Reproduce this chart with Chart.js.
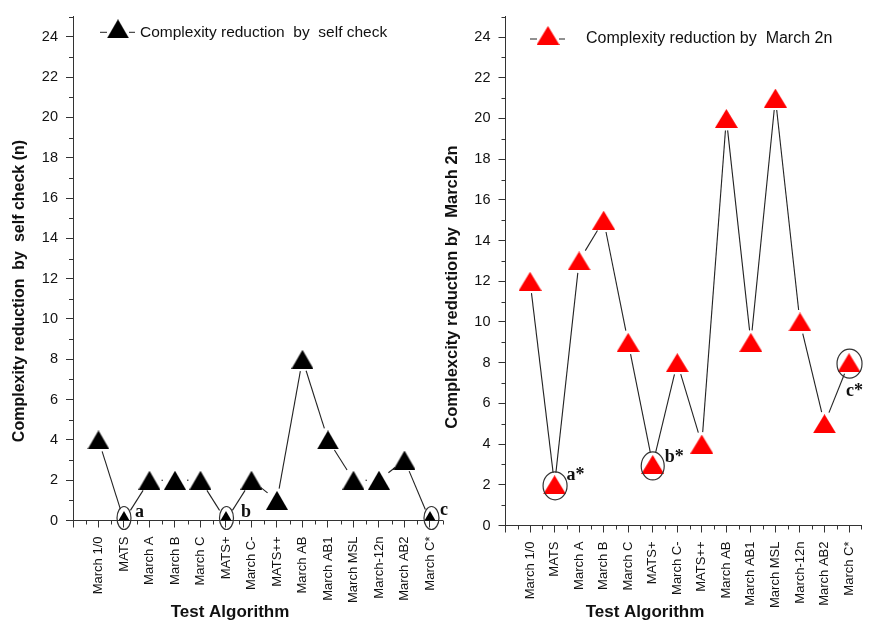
<!DOCTYPE html>
<html>
<head>
<meta charset="utf-8">
<script src="https://cdn.jsdelivr.net/npm/chart.js@4.4.1/dist/chart.umd.min.js"></script>
<style>
  body { margin: 0; background: #fff; }
  #wrap { position: relative; width: 874px; height: 623px; overflow: hidden; }
  #leftChart { position: absolute; left: 0; top: 0; }
  #rightChart { position: absolute; left: 430px; top: 0; }
</style>
</head>
<body>
<div id="wrap">
  <canvas id="leftChart" width="455" height="623"></canvas>
  <canvas id="rightChart" width="444" height="623"></canvas>
</div>
<script>
// data
const algorithms = ['March 1/0', 'MATS', 'March A', 'March B', 'March C', 'MATS+', 'March C-',
  'MATS++', 'March AB', 'March AB1', 'March MSL', 'March-12n', 'March AB2', 'March C*'];
const selfCheck = [4, 0, 2, 2, 2, 0, 2, 1, 8, 4, 2, 2, 3, 0];
const march2n = [12, 2, 13, 15, 9, 3, 8, 4, 20, 9, 21, 10, 5, 8];
const selfCheckMarked = [1, 5, 13];
const selfCheckMarkText = ['a', 'b', 'c'];
const march2nMarked = [1, 5, 13];
const march2nMarkText = ['a*', 'b*', 'c*'];
const yMax = 25;

const SANS = '"Liberation Sans", Arial, sans-serif';
const SERIF = '"Liberation Serif", "Times New Roman", serif';

function triangleImage(color, w, h) {
  const c = document.createElement('canvas');
  c.width = w;
  c.height = h;
  const g = c.getContext('2d');
  g.fillStyle = color;
  g.beginPath();
  g.moveTo(w / 2, 0);
  g.lineTo(w, h);
  g.lineTo(0, h);
  g.closePath();
  g.fill();
  return c;
}

// lines between points that stop short of the markers (Origin "gap" style)
const gapLines = {
  id: 'gapLines',
  beforeDatasetsDraw(chart) {
    const gap = chart.options.plugins.gapLines.gap;
    const pts = chart.getDatasetMeta(0).data;
    const ctx = chart.ctx;
    ctx.save();
    ctx.strokeStyle = '#222';
    ctx.lineWidth = 1.1;
    for (let i = 0; i < pts.length - 1; i++) {
      const a = pts[i], b = pts[i + 1];
      const dx = b.x - a.x, dy = b.y - a.y;
      const len = Math.sqrt(dx * dx + dy * dy);
      if (len <= gap * 2) continue;
      const ux = dx / len, uy = dy / len;
      ctx.beginPath();
      ctx.moveTo(a.x + ux * gap, a.y + uy * gap);
      ctx.lineTo(b.x - ux * gap, b.y - uy * gap);
      ctx.stroke();
    }
    ctx.restore();
  }
};

// minor ticks, titles, legend and circled marks
const extras = {
  id: 'extras',
  afterDraw(chart) {
    const o = chart.options.plugins.extras;
    const ctx = chart.ctx;
    const xs = chart.scales.x, ys = chart.scales.y;
    const area = chart.chartArea;
    ctx.save();
    ctx.strokeStyle = '#333';
    ctx.lineWidth = 1;
    ctx.beginPath();
    for (let v = 1; v <= yMax; v += 2) {
      const py = Math.round(ys.getPixelForValue(v)) + 0.5;
      ctx.moveTo(area.left - 4, py);
      ctx.lineTo(area.left, py);
    }
    for (let v = -0.5; v <= algorithms.length - 0.5; v += 1) {
      const px = Math.round(xs.getPixelForValue(v)) + 0.5;
      ctx.moveTo(px, area.bottom);
      ctx.lineTo(px, area.bottom + 4);
    }
    ctx.stroke();

    // axis titles
    ctx.fillStyle = '#111';
    ctx.textAlign = 'center';
    ctx.textBaseline = 'middle';
    ctx.font = 'bold ' + o.yTitle.size + 'px ' + SANS;
    ctx.save();
    ctx.translate(o.yTitle.x, o.yTitle.y);
    ctx.rotate(-Math.PI / 2);
    ctx.fillText(o.yTitle.text, 0, 0);
    ctx.restore();
    ctx.font = 'bold 17px ' + SANS;
    ctx.fillText('Test Algorithm', o.xTitle.x, o.xTitle.y);

    // legend
    const lg = o.legend;
    ctx.strokeStyle = '#222';
    ctx.beginPath();
    ctx.moveTo(lg.x, lg.y);
    ctx.lineTo(lg.x + 7, lg.y);
    ctx.moveTo(lg.x + 29, lg.y);
    ctx.lineTo(lg.x + 35, lg.y);
    ctx.stroke();
    const img = chart.data.datasets[0].pointStyle;
    ctx.drawImage(img, lg.x + 18 - img.width / 2, lg.y - 3.5 - img.height / 2);
    ctx.textAlign = 'left';
    ctx.font = lg.size + 'px ' + SANS;
    ctx.fillText(chart.data.datasets[0].label, lg.textX, lg.y);

    // circled points with letters
    const values = chart.data.datasets[0].data;
    ctx.strokeStyle = '#333';
    ctx.lineWidth = 1.2;
    ctx.font = 'bold 18px ' + SERIF;
    ctx.textBaseline = 'alphabetic';
    o.marks.idx.forEach(function (idx, k) {
      const st = o.marks.style[k];
      const px = xs.getPixelForValue(values[idx].x);
      const py = ys.getPixelForValue(values[idx].y);
      ctx.beginPath();
      ctx.ellipse(px + st.ex, py + st.ey, st.rx, st.ry, 0, 0, Math.PI * 2);
      ctx.stroke();
      ctx.fillText(o.marks.text[k], px + st.tx, py + st.ty);
    });
    ctx.restore();
  }
};

function makeChart(id, label, values, color, layout, extraOpts) {
  const ctx = document.getElementById(id).getContext('2d');
  const data = {
    datasets: [{
      label: label,
      data: values.map(function (v, i) { return { x: i, y: v }; }),
      pointStyle: triangleImage(color, layout.triW, layout.triH),
      pointRadius: 10,
      pointHoverRadius: 10,
      clip: { left: false, top: false, right: false, bottom: 0 }
    }]
  };
  return new Chart(ctx, {
    type: 'scatter',
    data: data,
    plugins: [gapLines, extras],
    options: {
      responsive: false,
      animation: false,
      devicePixelRatio: 1,
      layout: { padding: { top: layout.top, right: layout.right, left: 0, bottom: 0 } },
      plugins: {
        legend: { display: false },
        tooltip: { enabled: false },
        gapLines: { gap: 12 },
        extras: extraOpts
      },
      scales: {
        x: {
          type: 'linear',
          min: -1,
          max: algorithms.length - 0.5,
          afterFit: function (s) { s.height = layout.xAxisH; },
          grid: { drawOnChartArea: false, drawTicks: true, tickLength: 7, color: '#333' },
          border: { display: true, color: '#333', width: 1 },
          ticks: {
            stepSize: 1,
            includeBounds: false,
            autoSkip: false,
            minRotation: 90,
            maxRotation: 90,
            padding: 9,
            color: '#111',
            font: { family: SANS, size: 13 },
            callback: function (v) {
              return Number.isInteger(v) && v >= 0 && v < algorithms.length ? algorithms[v] : '';
            }
          }
        },
        y: {
          min: 0,
          max: yMax,
          afterFit: function (s) { s.width = layout.yAxisW; },
          grid: { drawOnChartArea: false, drawTicks: true, tickLength: 7, color: '#333' },
          border: { display: true, color: '#333', width: 1 },
          ticks: {
            stepSize: 2,
            includeBounds: false,
            padding: 8,
            color: '#111',
            font: { family: SANS, size: 14.5 }
          }
        }
      }
    }
  });
}

makeChart('leftChart', 'Complexity reduction  by  self check', selfCheck, '#000000',
  { triW: 22, triH: 19, top: 6.7, right: 12, xAxisH: 102.5, yAxisW: 73 },
  {
    yTitle: { text: 'Complexity reduction  by  self check (n)', x: 20, y: 291, size: 16 },
    xTitle: { x: 230, y: 612 },
    legend: { x: 100, y: 32.3, textX: 140, size: 15.5 },
    marks: {
      idx: selfCheckMarked,
      text: selfCheckMarkText,
      style: [
        { ex: 0, ey: -2.5, rx: 7, ry: 11.5, tx: 11, ty: -3.5 },
        { ex: 0.5, ey: -2.5, rx: 7, ry: 11.5, tx: 15, ty: -3.5 },
        { ex: 1.5, ey: -2.5, rx: 7.5, ry: 11.5, tx: 10, ty: -5.5 }
      ]
    }
  });

makeChart('rightChart', 'Complexity reduction by  March 2n', march2n, '#ff0000',
  { triW: 23, triH: 19, top: 11.75, right: 6, xAxisH: 97.5, yAxisW: 75.5 },
  {
    yTitle: { text: 'Complexcity reduction by  March 2n', x: 22, y: 287, size: 16.5 },
    xTitle: { x: 215, y: 612 },
    legend: { x: 100, y: 39, textX: 156, size: 16 },
    marks: {
      idx: march2nMarked,
      text: march2nMarkText,
      style: [
        { ex: 0.5, ey: 1, rx: 12, ry: 14, tx: 12, ty: -4.4 },
        { ex: 0, ey: 1.5, rx: 11.5, ry: 14, tx: 12, ty: -2 },
        { ex: 0.5, ey: 1, rx: 12.5, ry: 14.5, tx: -3, ty: 33 }
      ]
    }
  });
</script>
</body>
</html>
